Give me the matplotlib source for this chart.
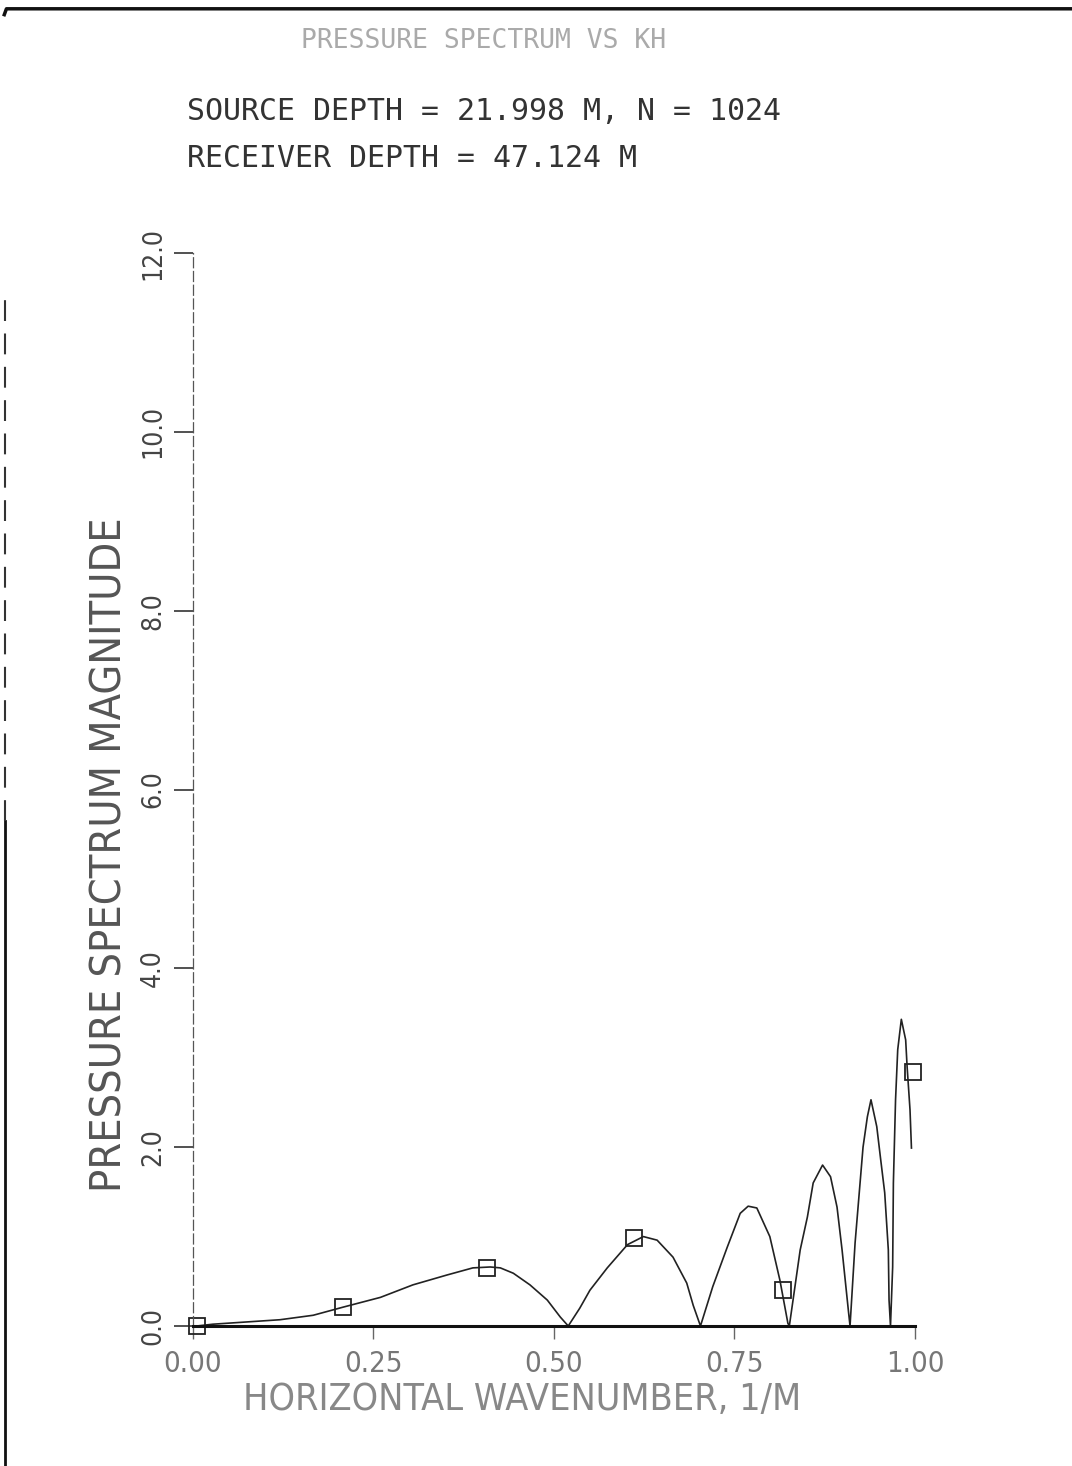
import numpy as np
import matplotlib.pyplot as plt
from matplotlib.lines import Line2D
from matplotlib import font_manager

# Pressure spectrum magnitude traced along horizontal wavenumber
wavenumber = [0.006, 0.028, 0.121, 0.167, 0.208, 0.260, 0.305, 0.352, 0.388,
              0.412, 0.426, 0.444, 0.467, 0.491, 0.509, 0.520,
              0.536, 0.550, 0.574, 0.602, 0.624, 0.643, 0.665, 0.684, 0.693, 0.703,
              0.720, 0.740, 0.758, 0.769, 0.781, 0.799, 0.813, 0.824, 0.826,
              0.841, 0.851, 0.859, 0.872, 0.883, 0.892, 0.899, 0.908, 0.910,
              0.917, 0.928, 0.934, 0.939, 0.947, 0.952, 0.958, 0.963, 0.964, 0.966,
              0.969, 0.970, 0.973, 0.976, 0.981, 0.987, 0.989, 0.993, 0.995]
magnitude = [0.00, 0.02, 0.07, 0.12, 0.21, 0.32, 0.46, 0.57, 0.65,
             0.66, 0.65, 0.59, 0.46, 0.29, 0.10, 0.00,
             0.20, 0.40, 0.65, 0.91, 1.00, 0.96, 0.77, 0.48, 0.23, 0.00,
             0.44, 0.88, 1.26, 1.34, 1.32, 1.00, 0.51, 0.03, 0.00,
             0.85, 1.22, 1.60, 1.80, 1.67, 1.33, 0.85, 0.15, 0.00,
             0.93, 2.00, 2.34, 2.53, 2.23, 1.89, 1.49, 0.85, 0.29, 0.00,
             0.66, 1.60, 2.53, 3.09, 3.43, 3.20, 2.90, 2.42, 1.99]

# square symbols placed along the curve
marker_k = [0.006, 0.208, 0.408, 0.611, 0.817, 0.997]
marker_p = [0.00, 0.21, 0.65, 0.98, 0.40, 2.84]

xticks = [0.0, 0.25, 0.50, 0.75, 1.00]
xtick_labels = ['0.00', '0.25', '0.50', '0.75', '1.00']
yticks = [0.0, 2.0, 4.0, 6.0, 8.0, 10.0, 12.0]
ytick_labels = ['0.0', '2.0', '4.0', '6.0', '8.0', '10.0', '12.0']

mono = 'DejaVu Sans Mono'
narrow = font_manager.FontProperties(family='DejaVu Sans', stretch='condensed')


def narrow_font(size):
    fp = narrow.copy()
    fp.set_size(size)
    return fp


fig = plt.figure(figsize=(10.72, 14.66), dpi=100)
ax = fig.add_axes([0.1796, 0.0955, 0.674, 0.7319])

ax.plot(wavenumber, magnitude, '-', color='#222222', linewidth=1.2)
ax.plot(marker_k, marker_p, 's', markersize=11, markerfacecolor='none',
        markeredgecolor='#222222', markeredgewidth=1.3, clip_on=False)

ax.set_xlim(0, 1)
ax.set_ylim(0, 12)
for side in ['top', 'right']:
    ax.spines[side].set_visible(False)
ax.spines['bottom'].set_linewidth(2.2)
ax.spines['bottom'].set_color('#111111')
ax.spines['left'].set_linewidth(0.9)
ax.spines['left'].set_color('#555555')
ax.spines['left'].set_linestyle((0, (8, 3)))

ax.set_xticks(xticks)
ax.set_xticklabels(xtick_labels, fontproperties=narrow_font(21), color='#777777')
ax.set_yticks(yticks)
ax.set_yticklabels(ytick_labels, fontproperties=narrow_font(19), color='#444444',
                   rotation=90, va='center')
ax.tick_params(axis='x', direction='out', length=9, width=1, color='#666666', pad=8)
ax.tick_params(axis='y', direction='out', length=14, width=1.2, color='#333333', pad=5)

ax.set_xlabel('HORIZONTAL WAVENUMBER, 1/M', fontproperties=narrow_font(27),
              color='#888888')
ax.xaxis.set_label_coords(0.456, -0.052)
ax.set_ylabel('PRESSURE SPECTRUM MAGNITUDE', fontproperties=narrow_font(31),
              color='#555555')
ax.yaxis.set_label_coords(-0.086, 0.439)

# headings
fig.text(0.451, 0.972, 'PRESSURE SPECTRUM VS KH', family=mono, fontsize=19,
         color='#aaaaaa', ha='center', va='center')
fig.text(0.174, 0.924, 'SOURCE DEPTH = 21.998 M, N = 1024', family=mono,
         fontsize=21.5, color='#333333', ha='left', va='center')
fig.text(0.174, 0.892, 'RECEIVER DEPTH = 47.124 M', family=mono,
         fontsize=21.5, color='#333333', ha='left', va='center')

# page edges
fig.add_artist(Line2D([0.004, 0.006, 1.0], [0.990, 0.994, 0.994],
                      transform=fig.transFigure, color='#111111', linewidth=2.5))
fig.add_artist(Line2D([0.005, 0.005], [0.0, 0.44], transform=fig.transFigure,
                      color='#111111', linewidth=2))
fig.add_artist(Line2D([0.005, 0.005], [0.44, 0.80], transform=fig.transFigure,
                      color='#333333', linewidth=1.5, linestyle=(0, (10, 6))))

fig.savefig('out.png', dpi=100)
